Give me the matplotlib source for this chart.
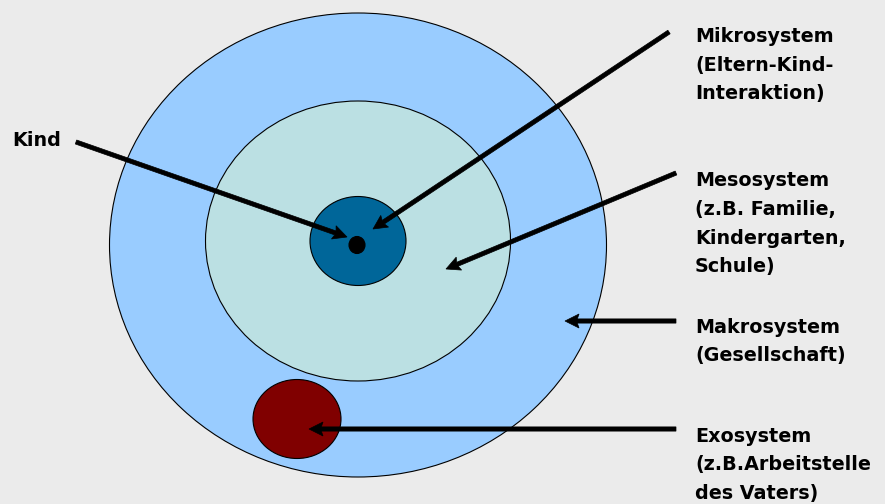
import matplotlib
matplotlib.use("Agg")
import matplotlib.pyplot as plt
from matplotlib.patches import Ellipse

W, H = 885, 504

# ellipses: name, center, width, height, colour
ell_names = ["Makrosystem", "Mesosystem", "Mikrosystem", "Exosystem", "Kind"]
ell_centers = [(358, 245), (358, 241), (358, 241), (297, 419), (357, 245)]
ell_widths = [497, 305, 96, 88, 16]
ell_heights = [464, 280, 89, 79, 17]
ell_colors = ["#99ccff", "#bbe0e3", "#006699", "#800000", "#000000"]

# labels (lines), text anchor (left x, first baseline y), arrow start, arrow tip
label_lines = [
    ["Kind"],
    ["Mikrosystem", "(Eltern-Kind-", "Interaktion)"],
    ["Mesosystem", "(z.B. Familie,", "Kindergarten,", "Schule)"],
    ["Makrosystem", "(Gesellschaft)"],
    ["Exosystem", "(z.B.Arbeitstelle", "des Vaters)"],
]
label_xy = [(12, 146.5), (695, 42), (695, 186.5), (695, 333), (695, 441.5)]
arrow_start = [(76, 142), (669, 32), (676, 173), (676, 321), (676, 429)]
arrow_tip = [(347, 237), (373, 229), (446, 269), (565, 321), (309, 429)]

LINE_STEP = 28.5

fig = plt.figure(figsize=(W / 100, H / 100), dpi=100)
fig.patch.set_facecolor("#ebebeb")
ax = fig.add_axes([0, 0, 1, 1])
ax.set_xlim(0, W)
ax.set_ylim(H, 0)
ax.set_aspect("equal")
ax.axis("off")

for (c, w, h, col) in zip(ell_centers, ell_widths, ell_heights, ell_colors):
    ax.add_patch(Ellipse(c, w, h, facecolor=col, edgecolor="black", linewidth=0.8, zorder=2))

for (s, t) in zip(arrow_start, arrow_tip):
    dx, dy = t[0] - s[0], t[1] - s[1]
    ax.arrow(s[0], s[1], dx, dy, width=4.2, head_width=14, head_length=14,
             overhang=0.12, length_includes_head=True,
             facecolor="black", edgecolor="black", linewidth=0.5, zorder=5)

for lines, (x, y) in zip(label_lines, label_xy):
    for i, ln in enumerate(lines):
        ax.text(x, y + i * LINE_STEP, ln, fontsize=13.8, fontweight="bold",
                family="DejaVu Sans", color="black", ha="left", va="baseline", zorder=6)

fig.savefig("out.png", dpi=100, facecolor=fig.get_facecolor())
